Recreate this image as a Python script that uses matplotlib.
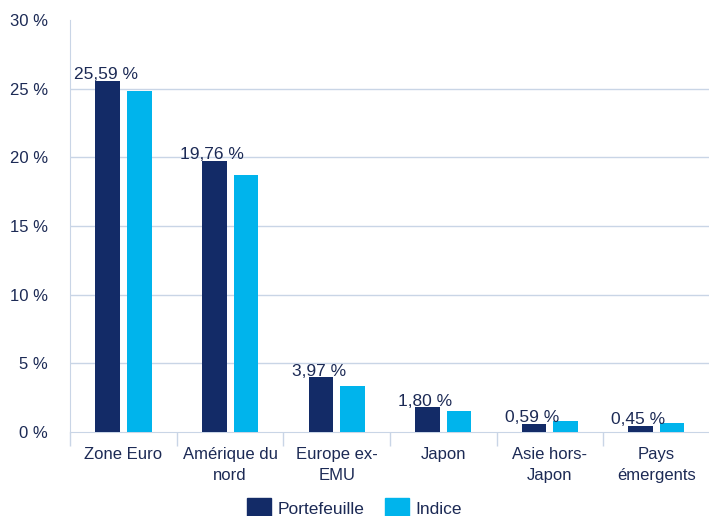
import matplotlib.pyplot as plt
import numpy as np

plt.rcParams['font.family'] = ['Liberation Sans', 'DejaVu Sans']

regions = ["Zone Euro", "Amérique du\nnord", "Europe ex-\nEMU", "Japon", "Asie hors-\nJapon", "Pays\némergents"]
portefeuille = [25.59, 19.76, 3.97, 1.80, 0.59, 0.45]
indice = [24.8, 18.75, 3.35, 1.55, 0.8, 0.62]
yticks = [0, 5, 10, 15, 20, 25, 30]

navy = "#132b67"
cyan = "#00b4ec"
txt = "#1c2a55"
grid = "#c9d5e6"

fig = plt.figure(figsize=(7.09, 5.16), dpi=100)
ax = fig.add_axes([0.099, 0.163, 0.902, 0.798])

x = np.arange(len(regions))
w = 0.23
off = 0.148
ax.bar(x - off, portefeuille, w, color=navy, zorder=3)
ax.bar(x + off, indice, w, color=cyan, zorder=3)

for xi, v in zip(x, portefeuille):
    ax.text(xi - off - 0.02, v - 0.12, f"{v:.2f} %".replace(".", ","),
            ha="center", va="bottom", fontsize=12.5, color=txt, zorder=4)

ax.set_xlim(-0.5, len(regions) - 0.5)
ax.set_ylim(0, 30)
ax.set_yticks(yticks)
ax.set_yticklabels([f"{t} %" for t in yticks])
for t in yticks[1:-1]:
    ax.axhline(t, color=grid, linewidth=1, zorder=0)

ax.set_xticks(x)
ax.set_xticklabels(regions, linespacing=1.45)
ax.set_xticks(np.arange(len(regions) + 1) - 0.5, minor=True)
ax.tick_params(axis="x", which="major", length=0, pad=11, labelsize=12, labelcolor=txt)
ax.tick_params(axis="x", which="minor", length=10, width=1, color=grid)
ax.tick_params(axis="y", length=0, pad=16, labelsize=12, labelcolor=txt)

for s in ["top", "right"]:
    ax.spines[s].set_visible(False)
ax.spines["left"].set_color(grid)
ax.spines["bottom"].set_color(grid)

h1 = plt.Rectangle((0, 0), 1, 1, color=navy)
h2 = plt.Rectangle((0, 0), 1, 1, color=cyan)
fig.legend([h1, h2], ["Portefeuille", "Indice"], loc="lower center",
           bbox_to_anchor=(0.5, -0.033), ncol=2, frameon=False, fontsize=12.5,
           handlelength=1.4, handleheight=1.3, handletextpad=0.35, columnspacing=1.2,
           labelcolor=txt)

fig.savefig("out.png", dpi=100)
